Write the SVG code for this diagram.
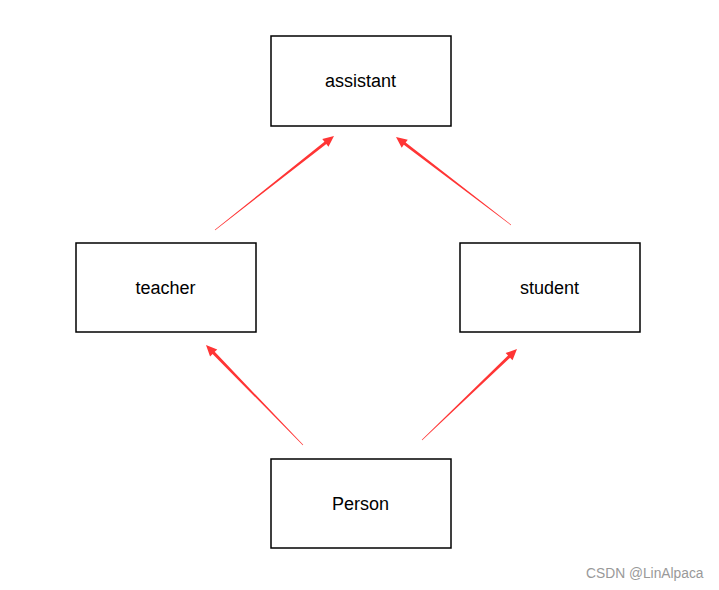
<svg xmlns="http://www.w3.org/2000/svg" width="719" height="590" viewBox="0 0 719 590">
<style>
.box{fill:#fff;stroke:#000;stroke-width:1.5}
.lbl{font-family:"Liberation Sans",Arial,sans-serif;font-size:18px;fill:#000;text-anchor:middle;dominant-baseline:central}
.arr{fill:#ff3535;stroke:none}
.wm{font-family:"Liberation Sans",Arial,sans-serif;font-size:13.8px;fill:#999}
</style>
<rect width="719" height="590" fill="#fff"/>
<g id="assistant"><rect class="box" x="271" y="36" width="180" height="90"/><text class="lbl" x="360.5" y="81">assistant</text></g>
<g id="teacher"><rect class="box" x="76" y="243" width="180" height="89"/><text class="lbl" x="165.5" y="288">teacher</text></g>
<g id="student"><rect class="box" x="460" y="243" width="180" height="89"/><text class="lbl" x="549.5" y="288">student</text></g>
<g id="person"><rect class="box" x="271" y="459" width="180" height="89"/><text class="lbl" x="360.5" y="504">Person</text></g>
<g id="connectors">
<polygon class="arr" points="215.19,230.24 326.30,144.00 328.47,146.74 334,136 322.27,138.90 324.44,141.64 214.81,229.76"/>
<polygon class="arr" points="511.18,224.76 405.65,142.49 407.78,139.71 396,137 401.70,147.65 403.83,144.87 510.82,225.24"/>
<polygon class="arr" points="303.22,444.79 214.74,351.86 217.25,349.42 206,345 210.07,356.38 212.58,353.94 302.78,445.21"/>
<polygon class="arr" points="422.21,440.22 510.10,357.69 512.52,360.22 517,349 505.60,353.00 508.02,355.53 421.79,439.78"/>
</g>
<text class="wm" x="586" y="578">CSDN @LinAlpaca</text>
</svg>
